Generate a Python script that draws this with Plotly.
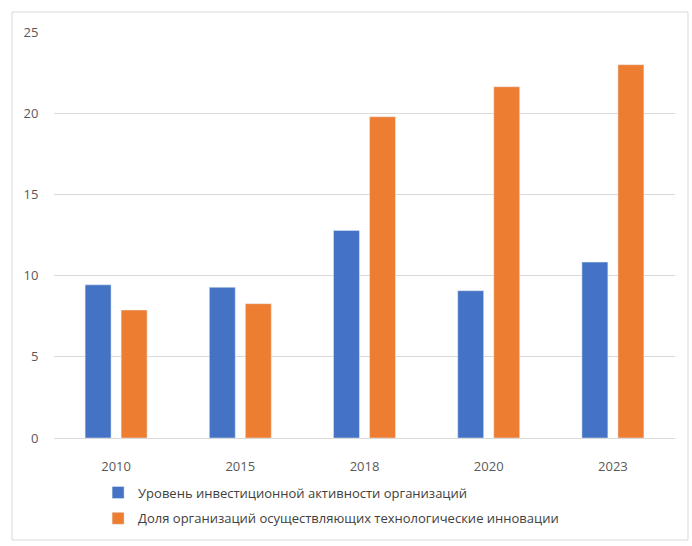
import plotly.graph_objects as go

categories = ["2010", "2015", "2018", "2020", "2023"]
invest_activity = [9.43, 9.28, 12.78, 9.07, 10.83]
tech_innovation = [7.88, 8.27, 19.78, 21.63, 22.99]
series_names = [
    "Уровень инвестиционной активности организаций",
    "Доля организаций осуществляющих технологические инновации",
]
y_ticks = [0, 5, 10, 15, 20, 25]

fig = go.Figure()
fig.add_trace(go.Bar(x=categories, y=invest_activity, name=series_names[0],
                     marker_color="#4472C4", legendgroup="a"))
fig.add_trace(go.Bar(x=categories, y=tech_innovation, name=series_names[1],
                     marker_color="#ED7D31", legendgroup="b"))

fig.update_layout(
    width=692, height=546,
    margin=dict(l=54, r=17, t=32, b=108),
    paper_bgcolor="white", plot_bgcolor="white",
    barmode="group", bargap=0.42, bargroupgap=0.28,
    font=dict(family="Open Sans, sans-serif", size=13, color="#595959"),
    showlegend=True,
    legend=dict(orientation="v", x=0.071, xanchor="left", y=(438 - 477.5) / 406, yanchor="top",
                font=dict(size=13, color="#404040"), tracegroupgap=6,
                bgcolor="rgba(0,0,0,0)", borderwidth=0),
    xaxis=dict(showgrid=False, showline=False, ticks="outside", ticklen=16,
               tickcolor="rgba(0,0,0,0)", tickfont=dict(size=13, color="#595959")),
    yaxis=dict(range=[0, 25], tickvals=y_ticks, showgrid=True, gridcolor="#d9d9d9",
               gridwidth=1, zeroline=True, zerolinecolor="#d9d9d9", zerolinewidth=1,
               showline=False, ticks="outside", ticklen=12, tickcolor="rgba(0,0,0,0)",
               tickfont=dict(size=13, color="#595959")),
    shapes=[dict(type="rect", xref="paper", yref="paper",
                 x0=(12 - 54) / 621, x1=(688 - 54) / 621,
                 y0=(438 - 540) / 406, y1=(438 - 12) / 406,
                 line=dict(color="#d9d9d9", width=1), fillcolor="rgba(0,0,0,0)", layer="below")],
)

fig.write_html("out.html", config={"displayModeBar": False},
               post_script="document.body.style.margin='0';")
